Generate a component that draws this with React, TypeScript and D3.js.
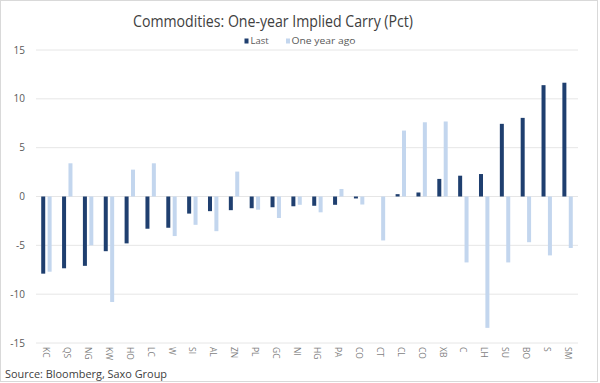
import React from "react";
import * as d3 from "d3";

const categories = ["KC","QS","NG","KW","HO","LC","W","SI","AL","ZN","PL","GC","NI","HG","PA","CO","CT","CL","CO","XB","C","LH","SU","BO","S","SM"];
const lastValues = [-7.9,-7.35,-7.1,-5.6,-4.8,-3.3,-3.2,-1.75,-1.5,-1.4,-1.2,-1.1,-1.0,-0.95,-0.85,-0.2,0,0.24,0.41,1.8,2.13,2.3,7.44,8.05,11.4,11.65];
const yearAgoValues = [-7.7,3.4,-5.0,-10.8,2.75,3.4,-4.05,-2.9,-3.55,2.55,-1.35,-2.2,-0.85,-1.62,0.77,-0.82,-4.5,6.75,7.6,7.68,-6.75,-13.45,-6.75,-4.68,-6.03,-5.27];
const yTicks = [-15,-10,-5,0,5,10,15];
const seriesNames = ["Last","One year ago"];
const colors = ["#1f3f6f","#c3d6ee"];

export default function App() {
  const W = 600, H = 383;
  const left = 36, right = 578, top = 50, bottom = 343;
  const idx = categories.map((_, i) => i);
  const x0 = d3.scaleBand<number>().domain(idx).range([left, right]).paddingInner(0).paddingOuter(0);
  const x1 = d3.scaleBand<number>().domain([0, 1]).range([0, x0.bandwidth()]).paddingInner(0.375).paddingOuter(0.816);
  const y = d3.scaleLinear().domain([-15, 15]).range([bottom, top]);
  const series = [lastValues, yearAgoValues];
  const font = "'Open Sans', 'Noto Sans', sans-serif";
  return (
    <svg width={W} height={H} style={{ position: "absolute", left: 0, top: 0, background: "#fff" }}>
      <rect x={0.5} y={0.5} width={597} height={381} fill="#fff" stroke="#d9d9d9" />
      <text x={273} y={27} textAnchor="middle" fontFamily={font} fontSize={16.5} fill="#404040" textLength={280} lengthAdjust="spacingAndGlyphs">
        Commodities: One-year Implied Carry (Pct)
      </text>
      {/* legend */}
      <rect x={244.5} y={38.5} width={4} height={5} fill={colors[0]} />
      <text x={250.5} y={44} fontFamily={font} fontSize={9.5} fill="#595959">{seriesNames[0]}</text>
      <rect x={286} y={38.5} width={4} height={5} fill={colors[1]} />
      <text x={291.5} y={44} fontFamily={font} fontSize={9.5} fill="#595959" textLength={64} lengthAdjust="spacingAndGlyphs">{seriesNames[1]}</text>
      {/* grid */}
      {yTicks.map(t => (
        <g key={t}>
          <line x1={left} x2={right} y1={y(t)} y2={y(t)} stroke="#e6e6e6" strokeWidth={1} />
          <text x={25} y={y(t) + 3.5} textAnchor="end" fontFamily={font} fontSize={10} fill="#595959">{t}</text>
        </g>
      ))}
      {/* bars */}
      {series.map((vals, s) => (
        <g key={s}>
          {vals.map((v, i) => (
            <rect key={i}
              x={(x0(i) as number) + (x1(s) as number)}
              width={x1.bandwidth()}
              y={Math.min(y(v), y(0))}
              height={Math.abs(y(v) - y(0))}
              fill={colors[s]} />
          ))}
        </g>
      ))}
      {/* x labels */}
      {categories.map((c, i) => {
        const cx = (x0(i) as number) + x0.bandwidth() / 2;
        return (
          <text key={i} transform={`translate(${cx - 3},347) rotate(90)`} fontFamily={font} fontSize={8.5} fill="#7f7f7f">{c}</text>
        );
      })}
      <text x={5} y={378} fontFamily={font} fontSize={11} fill="#404040" textLength={162} lengthAdjust="spacingAndGlyphs">Source: Bloomberg, Saxo Group</text>
    </svg>
  );
}
